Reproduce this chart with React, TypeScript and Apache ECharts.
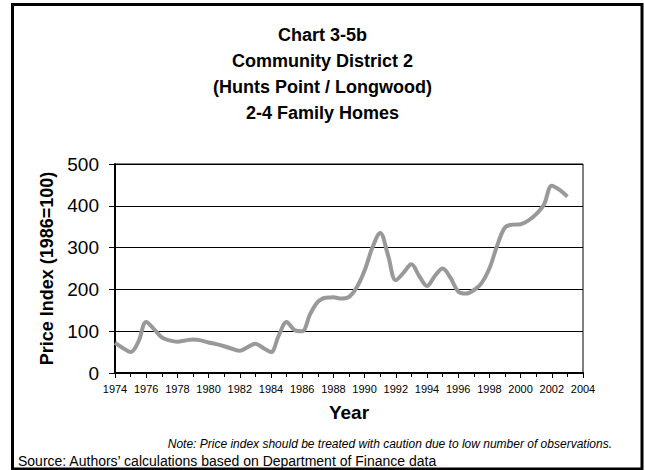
import React, { useEffect, useRef } from "react";
import * as echarts from "echarts";

const periods = [
  1974, 1974.5, 1975, 1975.5, 1976, 1976.5, 1977, 1977.5, 1978, 1978.5,
  1979, 1979.5, 1980, 1980.5, 1981, 1981.5, 1982, 1982.5, 1983, 1983.5,
  1984, 1984.5, 1985, 1985.5, 1986, 1986.5, 1987, 1987.5, 1988, 1988.5,
  1989, 1989.5, 1990, 1990.5, 1991, 1991.5, 1992, 1992.5, 1993, 1993.5,
  1994, 1994.5, 1995, 1995.5, 1996, 1996.5, 1997, 1997.5, 1998, 1998.5,
  1999, 1999.5, 2000, 2000.5, 2001, 2001.5, 2002, 2002.5, 2003,
];

const priceIndex = [
  72, 60, 50, 75, 122, 105, 85, 78, 75, 78,
  80, 78, 73, 69, 64, 58, 53, 62, 70, 60,
  50, 90, 122, 103, 100, 140, 170, 180, 181, 178,
  182, 205, 245, 300, 335, 282, 222, 240, 260, 232,
  208, 232, 250, 228, 195, 190, 198, 215, 250, 305,
  348, 355, 356, 365, 380, 403, 448, 438, 422,
];

const titleLines = [
  "Chart 3-5b",
  "Community District 2",
  "(Hunts Point / Longwood)",
  "2-4 Family Homes",
];
const yAxisTitle = "Price Index (1986=100)";
const xAxisTitle = "Year";
const noteText =
  "Note: Price index should be treated with caution due to low number of observations.";
const sourceText = "Source: Authors\u2019 calculations based on Department of Finance data";

const FONT = "'Liberation Sans', Arial, Helvetica, sans-serif";
const NARROW = "'Liberation Sans Narrow', 'Arial Narrow', 'Liberation Sans', Arial, sans-serif";

export default function App() {
  const ref = useRef<HTMLDivElement>(null);

  useEffect(() => {
    document.body.style.margin = "0";
    if (!ref.current) return;
    const chart = echarts.init(ref.current, undefined, { renderer: "svg" });
    const seriesData = periods.map((p, i) => [p, priceIndex[i]]);

    chart.setOption({
      animation: false,
      backgroundColor: "#ffffff",
      title: {
        text: titleLines.join("\n"),
        left: "center",
        top: 17,
        textStyle: {
          fontFamily: FONT,
          fontSize: 18,
          fontWeight: "bold",
          color: "#000",
          lineHeight: 26,
        },
      },
      grid: {
        left: 115,
        right: 62,
        top: 164,
        bottom: 97,
        show: true,
        borderColor: "#000",
        borderWidth: 1,
        backgroundColor: "transparent",
      },
      xAxis: {
        type: "value",
        min: 1974,
        max: 2004,
        interval: 2,
        name: xAxisTitle,
        nameLocation: "middle",
        nameGap: 30,
        nameTextStyle: {
          fontFamily: FONT,
          fontSize: 19,
          fontWeight: "bold",
          color: "#000",
        },
        axisLine: { show: true, onZero: false, lineStyle: { color: "#000", width: 2 } },
        axisTick: { show: true, inside: false, length: 5, lineStyle: { color: "#000", width: 1 } },
        minorTick: { show: true, splitNumber: 2, length: 4, lineStyle: { color: "#000", width: 1 } },
        axisLabel: {
          fontFamily: NARROW,
          fontSize: 11,
          color: "#000",
          margin: 10,
          formatter: (v: number) => String(v),
        },
        splitLine: { show: false },
      },
      yAxis: {
        type: "value",
        min: 0,
        max: 500,
        interval: 100,
        name: yAxisTitle,
        nameLocation: "middle",
        nameGap: 58,
        nameTextStyle: {
          fontFamily: FONT,
          fontSize: 18,
          fontWeight: "bold",
          color: "#000",
        },
        axisLine: { show: true, lineStyle: { color: "#000", width: 2 } },
        axisTick: { show: true, inside: false, length: 6, lineStyle: { color: "#000", width: 1 } },
        axisLabel: {
          fontFamily: FONT,
          fontSize: 19,
          color: "#000",
          margin: 16,
        },
        splitLine: { show: true, lineStyle: { color: "#000", width: 1 } },
      },
      series: [
        {
          type: "line",
          data: seriesData,
          smooth: 0.35,
          showSymbol: false,
          symbol: "none",
          lineStyle: { color: "#999999", width: 4 },
          z: 5,
        },
      ],
      graphic: [
        {
          type: "rect",
          shape: { x: 12.5, y: 4.5, width: 629.5, height: 464.5 },
          style: { fill: "none", stroke: "#000", lineWidth: 3 },
          silent: true,
          z: 100,
        },
        {
          type: "text",
          x: 612,
          y: 444,
          style: {
            text: noteText,
            fontFamily: FONT,
            fontSize: 12,
            fontStyle: "italic",
            fill: "#000",
            textAlign: "right",
            textVerticalAlign: "middle",
          },
        },
        {
          type: "text",
          x: 18,
          y: 461,
          style: {
            text: sourceText,
            fontFamily: FONT,
            fontSize: 14,
            fill: "#000",
            textAlign: "left",
            textVerticalAlign: "middle",
          },
        },
      ],
    });

    return () => {
      chart.dispose();
    };
  }, []);

  return <div ref={ref} style={{ width: 645, height: 470 }} />;
}
